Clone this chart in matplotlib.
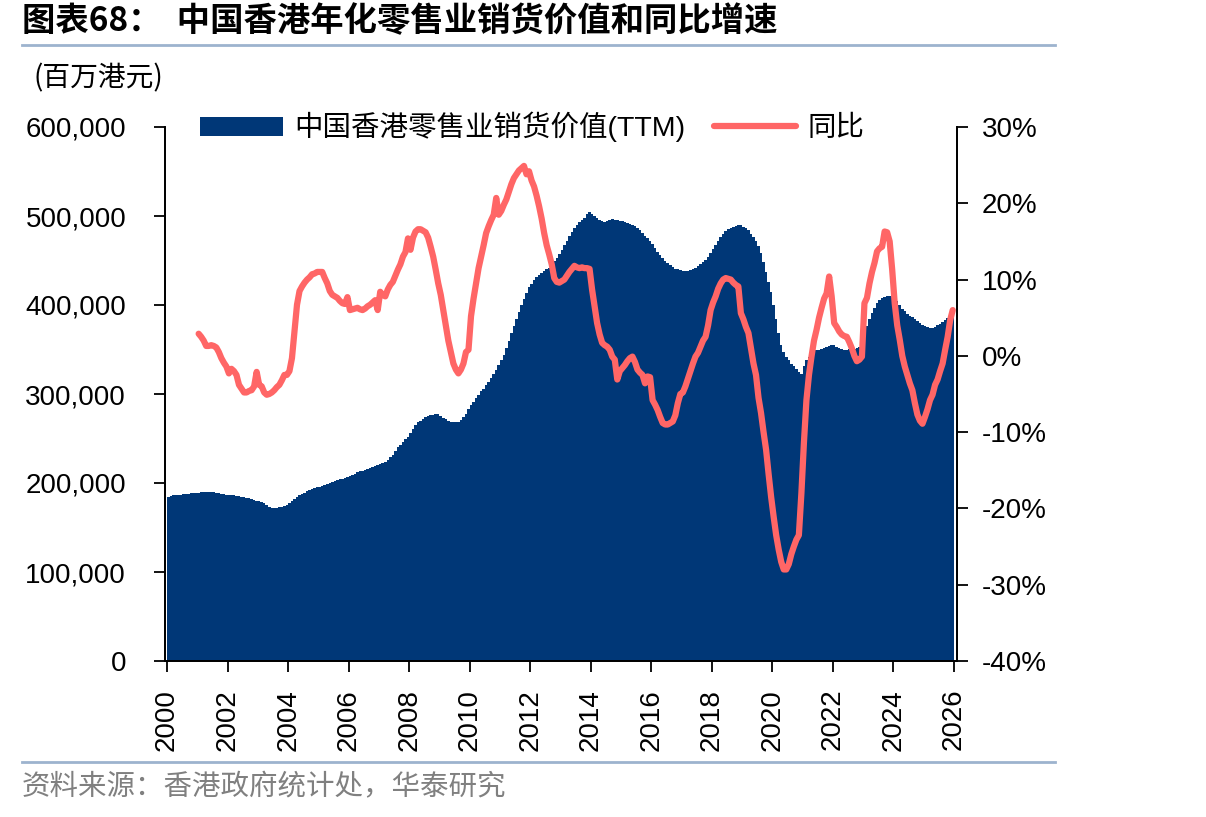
import numpy as np
import matplotlib
matplotlib.use("Agg")
import matplotlib.pyplot as plt
from matplotlib.lines import Line2D
from matplotlib.patches import Patch
from matplotlib.ticker import FuncFormatter, MultipleLocator

plt.rcParams["font.family"] = ["Liberation Sans", "Noto Sans CJK SC"]

# TTM retail sales value, thousand of HK$ mn, monthly Jan 2000 - Dec 2025
sales_k = [
    184, 185, 186, 186, 187, 187, 188, 188, 188, 189, 189, 189,  # 2000
    189, 190, 190, 190, 190, 190, 190, 189, 189, 188, 188, 187,  # 2001
    187, 186, 186, 185, 185, 184, 184, 183, 183, 182, 181, 180,  # 2002
    180, 179, 177, 175, 173, 172, 172, 172, 173, 173, 174, 175,  # 2003
    178, 180, 182, 184, 186, 188, 189, 191, 192, 193, 194, 195,  # 2004
    196, 197, 198, 199, 200, 201, 202, 203, 204, 205, 206, 207,  # 2005
    208, 209, 210, 212, 213, 214, 215, 216, 217, 218, 219, 220,  # 2006
    221, 222, 224, 226, 229, 232, 236, 240, 243, 246, 249, 252,  # 2007
    256, 261, 265, 268, 270, 272, 274, 275, 276, 276, 277, 277,  # 2008
    275, 273, 272, 270, 269, 268, 268, 269, 271, 274, 278, 283,  # 2009
    288, 291, 295, 299, 303, 306, 310, 314, 318, 322, 327, 333,  # 2010
    338, 344, 352, 360, 368, 376, 384, 392, 400, 407, 414, 420,  # 2011
    424, 428, 431, 434, 436, 438, 440, 442, 445, 449, 453, 457,  # 2012
    462, 467, 472, 477, 482, 486, 490, 493, 496, 498, 502, 504,  # 2013
    502, 500, 498, 496, 494, 493, 494, 496, 497, 496, 495, 494,  # 2014
    494, 493, 492, 491, 490, 489, 487, 484, 481, 478, 475, 472,  # 2015
    468, 464, 460, 456, 453, 450, 447, 445, 443, 441, 440, 439,  # 2016
    438, 438, 438, 439, 440, 442, 444, 446, 448, 451, 454, 458,  # 2017
    463, 467, 472, 476, 480, 483, 485, 487, 488, 489, 490, 490,  # 2018
    488, 486, 484, 480, 476, 472, 466, 458, 448, 437, 426, 415,  # 2019
    400, 384, 368, 355, 347, 342, 338, 334, 331, 328, 325, 323,  # 2020
    332, 338, 342, 345, 347, 349, 350, 351, 352, 353, 354, 355,  # 2021
    355, 353, 352, 351, 350, 350, 351, 351, 351, 352, 353, 358,  # 2022
    368, 376, 384, 391, 397, 402, 406, 408, 409, 410, 410, 410,  # 2023
    408, 404, 400, 396, 393, 390, 388, 386, 384, 382, 380, 378,  # 2024
    376, 375, 374, 374, 375, 377, 379, 381, 383, 385, 387, 389,  # 2025
]

# YoY growth of the TTM value, %, monthly Jan 2001 - Dec 2025
yoy = [
    2.9, 2.5, 2.0, 1.3, 1.3, 1.4, 1.3, 1.1, 0.5, -0.3, -0.9, -1.4,  # 2001
    -2.3, -1.7, -2.0, -2.5, -3.8, -4.3, -4.8, -4.8, -4.6, -4.5, -4.0, -2.1,  # 2002
    -3.8, -4.0, -4.8, -5.1, -5.0, -4.8, -4.5, -4.1, -3.8, -3.2, -2.5, -2.5,  # 2003
    -2.0, -0.3, 3.2, 6.7, 8.5, 9.1, 9.6, 10.0, 10.3, 10.7, 10.8, 11.0,  # 2004
    11.0, 11.0, 10.2, 9.5, 8.5, 8.0, 7.8, 7.6, 7.2, 6.9, 6.8, 7.7,  # 2005
    6.0, 6.1, 6.2, 6.3, 6.1, 6.0, 6.2, 6.5, 6.7, 7.0, 7.3, 6.0,  # 2006
    8.4, 8.0, 7.8, 8.7, 9.3, 9.7, 10.5, 11.3, 12.0, 13.0, 13.6, 15.4,  # 2007
    13.9, 15.5, 16.3, 16.6, 16.6, 16.4, 16.2, 15.5, 14.3, 13.0, 11.3, 9.5,  # 2008
    8.0, 6.0, 4.0, 2.0, 0.5, -1.0, -1.8, -2.3, -1.8, -1.0, 0.5, 0.8,  # 2009
    5.2, 7.5, 9.5, 11.5, 13.0, 14.5, 16.1, 17.0, 17.8, 18.5, 20.7, 18.5,  # 2010
    19.0, 19.8, 20.5, 21.5, 22.5, 23.3, 23.8, 24.3, 24.6, 24.9, 23.8, 24.2,  # 2011
    23.0, 22.2, 21.0, 19.6, 18.0, 16.1, 14.5, 13.3, 12.0, 10.2, 9.7, 9.6,  # 2012
    9.8, 10.0, 10.5, 11.0, 11.4, 11.8, 11.6, 11.5, 11.6, 11.5, 11.5, 11.4,  # 2013
    8.7, 6.5, 4.3, 2.8, 1.7, 1.4, 1.2, 0.8, -0.1, -0.5, -3.1, -2.0,  # 2014
    -1.6, -1.2, -0.7, -0.3, -0.1, -0.8, -1.8, -2.2, -2.5, -3.6, -2.7, -2.8,  # 2015
    -5.8, -6.4, -7.1, -8.0, -8.8, -9.0, -9.0, -8.8, -8.6, -7.8, -6.2, -5.0,  # 2016
    -4.8, -4.0, -3.0, -2.0, -1.0, -0.1, 0.4, 1.2, 2.0, 2.5, 4.0, 6.0,  # 2017
    7.0, 7.8, 8.8, 9.5, 10.0, 10.2, 10.1, 10.0, 9.6, 9.3, 9.1, 5.6,  # 2018
    4.8, 3.8, 3.0, 1.0, -1.0, -2.5, -5.5, -7.5, -10.0, -12.3, -15.5, -18.5,  # 2019
    -21.1, -23.5, -25.4, -27.0, -28.0, -28.0, -27.3, -26.0, -25.0, -24.1, -23.5, -18.0,  # 2020
    -11.4, -5.8, -2.5, -0.1, 2.0, 3.4, 5.0, 6.3, 7.5, 8.2, 10.4, 7.8,  # 2021
    4.3, 3.8, 3.2, 2.8, 2.6, 2.5, 1.8, 1.0, 0.0, -0.7, -0.5, -0.1,  # 2022
    6.9, 7.6, 9.5, 11.0, 12.2, 13.7, 14.1, 14.3, 16.3, 16.2, 15.0, 11.3,  # 2023
    6.9, 4.0, 2.1, 0.0, -1.4, -2.5, -3.6, -4.5, -6.2, -7.7, -8.5, -8.9,  # 2024
    -8.0, -7.0, -5.8, -5.1, -3.8, -3.1, -2.0, -1.0, 0.8, 2.5, 4.7, 6.0,  # 2025
]

year_ticks = list(range(2000, 2027, 2))

BLUE = "#003777"
RED = "#FF6666"
RULE = "#9DB3CE"
CJK = ["Noto Sans CJK SC", "DejaVu Sans"]

sales = np.array(sales_k) * 1000
x_sales = 2000 + np.arange(len(sales)) / 12
x_yoy = 2001 + np.arange(len(yoy)) / 12 + 1 / 24

fig = plt.figure(figsize=(12.06, 8.17), dpi=100)
ax = fig.add_axes([165 / 1206, 1 - 661 / 817, 792 / 1206, 534 / 817])
ax2 = ax.twinx()

ax.bar(x_sales, sales, width=1 / 12, align="edge", color=BLUE, linewidth=0)
ax2.plot(x_yoy, yoy, color=RED, linewidth=4.5, solid_capstyle="round", solid_joinstyle="round")

ax.set_xlim(1999.93, 2026.10)
ax.set_ylim(0, 600000)
ax2.set_ylim(-40, 30)
ax.set_xticks(year_ticks)
ax.set_xticklabels([str(y) for y in year_ticks], rotation=90)
ax.yaxis.set_major_locator(MultipleLocator(100000))
ax.yaxis.set_major_formatter(FuncFormatter(lambda v, p: f"{int(v):,}"))
ax2.yaxis.set_major_locator(MultipleLocator(10))
ax2.yaxis.set_major_formatter(FuncFormatter(lambda v, p: f"{int(round(v))}%"))

for a in (ax, ax2):
    a.spines["top"].set_visible(False)
    for s in ("left", "right", "bottom"):
        a.spines[s].set_linewidth(1.3)
ax.tick_params(axis="y", direction="out", length=8, width=1.3, labelsize=20, pad=20)
ax.tick_params(axis="x", direction="out", length=8, width=1.3, labelsize=20, pad=12)
ax2.tick_params(axis="y", direction="out", length=8, width=1.3, labelsize=20, pad=10)

handles = [
    Patch(facecolor=BLUE, edgecolor="none"),
    Line2D([], [], color=RED, linewidth=4.5, solid_capstyle="round"),
]
fig.legend(handles, ["中国香港零售业销货价值(TTM)", "同比"], loc="center left",
           bbox_to_anchor=(200 / 1206, 1 - 127 / 817), ncol=2, frameon=False,
           fontsize=20.5, handlelength=2.9, handleheight=0.65, handletextpad=0.4,
           columnspacing=1.0, borderpad=0, borderaxespad=0)

fig.text(22 / 1206, 1 - 22 / 817, "图表68：  中国香港年化零售业销货价值和同比增速",
         fontsize=24, fontweight="bold", va="center", ha="left", family=CJK)
fig.add_artist(Line2D([22 / 1206, 1055 / 1206], [1 - 45 / 817] * 2, color=RULE, linewidth=2))
fig.text(33 / 1206, 1 - 78 / 817, "(百万港元)", fontsize=20, va="center", ha="left", family=CJK)
fig.add_artist(Line2D([22 / 1206, 1055 / 1206], [1 - 762 / 817] * 2, color=RULE, linewidth=2))
fig.text(22 / 1206, 1 - 787 / 817, "资料来源：香港政府统计处，华泰研究", fontsize=20.5,
         color="#808080", va="center", ha="left", family=CJK)

fig.savefig("out.png", dpi=100)
